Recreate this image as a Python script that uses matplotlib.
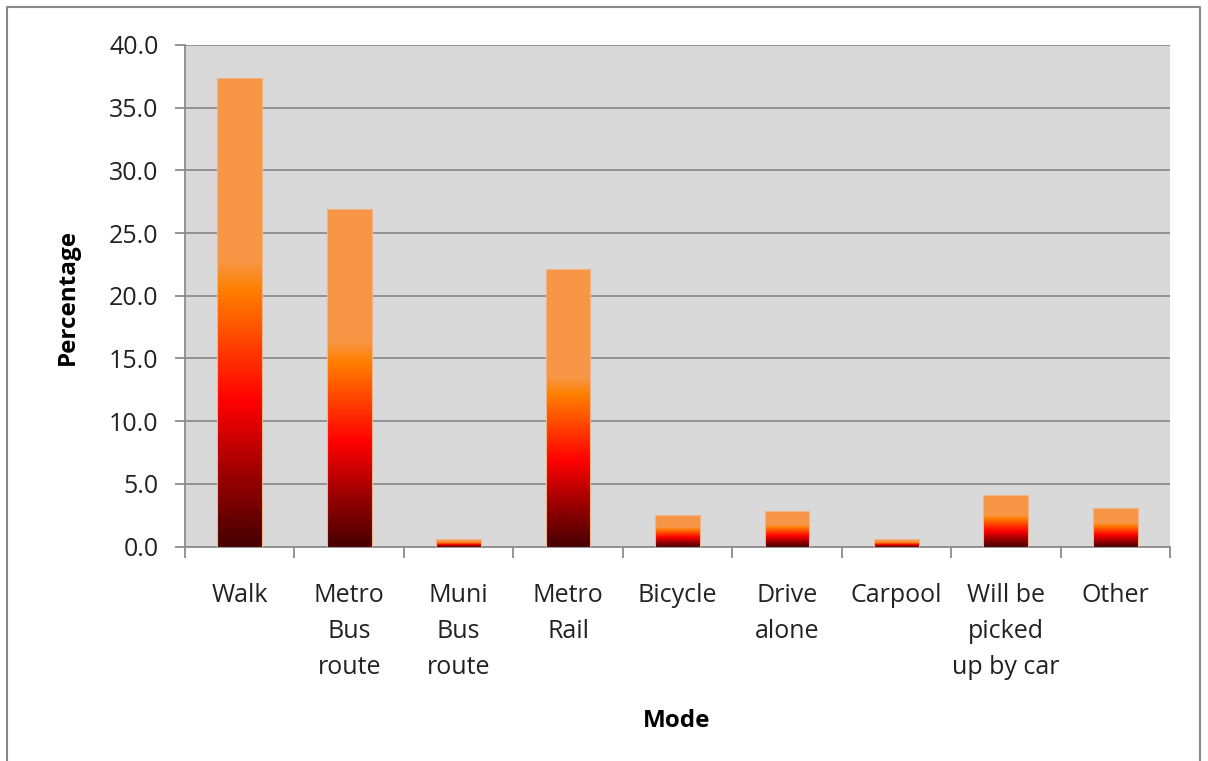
import matplotlib
matplotlib.use("Agg")
import matplotlib.pyplot as plt
import numpy as np
from matplotlib.colors import LinearSegmentedColormap
from matplotlib.lines import Line2D

# data
modes = ["Walk", "Metro\nBus\nroute", "Muni\nBus\nroute", "Metro\nRail", "Bicycle",
         "Drive\nalone", "Carpool", "Will be\npicked\nup by car", "Other"]
percent = [37.4, 26.9, 0.6, 22.1, 2.5, 2.8, 0.6, 4.1, 3.1]
yticks = [0, 5, 10, 15, 20, 25, 30, 35, 40]

plt.rcParams['font.family'] = ['Open Sans', 'DejaVu Sans']

W, H = 1208, 761
fig = plt.figure(figsize=(W/100, H/100), dpi=100)
ax = fig.add_axes([185/W, 1 - 546.5/H, (1170 - 185)/W, (546.5 - 45)/H])
ax.set_facecolor('#d9d9d9')

# gradient for bars (dark red -> red -> orange -> light orange)
cmap = LinearSegmentedColormap.from_list('fire', [
	(0.0, '#470000'),
	(0.15, '#9a0000'),
	(0.31, '#ff0000'),
	(0.55, '#ff8000'),
	(0.61, '#f79646'),
	(1.0, '#f79646')])
grad = np.linspace(0, 1, 256).reshape(-1, 1)

x = np.arange(len(modes))
w = 0.41
for xi, h in zip(x, percent):
	ax.imshow(grad, cmap=cmap, origin='lower', aspect='auto',
			  extent=[xi - w/2, xi + w/2, 0, h], zorder=3, interpolation='bilinear')
	ax.bar(xi, h, width=w, facecolor='none', edgecolor='#f0b48a', linewidth=0.8, zorder=4)

ax.set_xlim(-0.5, len(modes) - 0.5)
ax.set_ylim(0, 40)

ax.set_yticks(yticks)
ax.set_yticklabels(["%.1f" % v for v in yticks], fontsize=18, color='#222222')
ax.yaxis.grid(True, color='#8c8c8c', linewidth=1.3, zorder=1)
ax.set_axisbelow(True)

ax.set_xticks(x)
ax.set_xticklabels(modes, fontsize=18, linespacing=1.58, va='top', color='#222222')
ax.set_xticks(np.arange(len(modes) + 1) - 0.5, minor=True)
ax.tick_params(axis='x', which='major', length=0, pad=26.5)
ax.tick_params(axis='x', which='minor', length=8, color='#8c8c8c', width=1.3)
ax.tick_params(axis='y', length=7, color='#8c8c8c', width=1.3, pad=12)

for s in ['top', 'right']:
	ax.spines[s].set_visible(False)
ax.spines['left'].set_color('#8c8c8c')
ax.spines['bottom'].set_color('#8c8c8c')
ax.spines['left'].set_linewidth(1.3)
ax.spines['bottom'].set_linewidth(1.3)

fig.text(68/W, 1 - 297/H, 'Percentage', rotation=90, fontsize=17.5, fontweight='bold',
		 ha='center', va='center')
fig.text(677/W, 1 - 721/H, 'Mode', fontsize=17.5, fontweight='bold',
		 ha='center', va='center')

# outer chart border
bx0, bx1, by1 = 7/W, 1200/W, 1 - 7/H
fig.add_artist(Line2D([bx0, bx0, bx1, bx1], [0, by1, by1, 0], transform=fig.transFigure,
					  color='#888888', linewidth=1.5))

fig.savefig('out.png', dpi=100)
